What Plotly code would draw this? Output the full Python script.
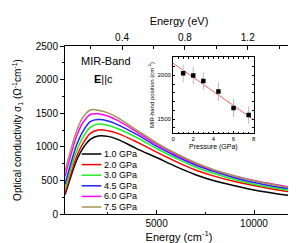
import plotly.graph_objects as go

# ---------------- data ----------------
energy_cm = [300, 450, 650, 900, 1200, 1600, 2000, 2500, 3000, 4000, 5000,
             6000, 7000, 8000, 9000, 10000, 11000, 12000]
sigma_1p0 = [285, 420, 600, 800, 970, 1110, 1160, 1155, 1110, 970, 840, 705, 585, 490, 420, 358, 310, 270]
sigma_2p0 = [310, 450, 640, 860, 1040, 1200, 1250, 1240, 1200, 1070, 920, 780, 655, 560, 485, 424, 370, 324]
sigma_3p0 = [370, 520, 720, 940, 1130, 1290, 1338, 1322, 1272, 1135, 975, 830, 700, 598, 512, 443, 390, 343]
sigma_4p5 = [440, 600, 800, 1030, 1220, 1375, 1405, 1385, 1330, 1180, 1010, 860, 730, 628, 540, 468, 413, 368]
sigma_6p0 = [560, 720, 930, 1160, 1350, 1480, 1492, 1458, 1392, 1220, 1040, 885, 752, 648, 566, 498, 443, 395]
sigma_7p5 = [640, 800, 1010, 1240, 1430, 1548, 1545, 1505, 1435, 1245, 1060, 900, 762, 652, 566, 495, 435, 383]
series_labels = ["1.0 GPa", "2.0 GPa", "3.0 GPa", "4.5 GPa", "6.0 GPa", "7.5 GPa"]
series_colors = ["#000000", "#ff0000", "#22ee22", "#2222ff", "#ff00ff", "#a3954f"]

pressure_gpa = [1.0, 2.0, 3.0, 4.5, 6.0, 7.5]
mir_position = [2023, 1997, 1935, 1815, 1625, 1545]
mir_error = [100, 100, 100, 105, 105, 100]
fit_pressure = [0, 8]
fit_position = [2140, 1492]

x_range_cm = [300, 12000]
cm_per_ev = 8065.54

series = [sigma_1p0, sigma_2p0, sigma_3p0, sigma_4p5, sigma_6p0, sigma_7p5]

FONT = "Liberation Sans, Arial, Helvetica, sans-serif"
W, H = 296, 243
ML, MR, MT, MB = 55, 9, 38, 37
PW, PH = W - ML - MR, H - MT - MB

def px(x):
    return (x - ML) / PW

def py(y):
    return (H - MB - y) / PH

fig = go.Figure()
for vals, col, lab in zip(series, series_colors, series_labels):
    fig.add_trace(go.Scatter(x=energy_cm, y=vals, mode="lines", name=lab,
                             line=dict(color=col, width=1.5, shape="spline", smoothing=1.0),
                             showlegend=False, xaxis="x", yaxis="y"))

# invisible trace to activate top / right axes
fig.add_trace(go.Scatter(x=[x_range_cm[0] / cm_per_ev], y=[0], mode="markers",
                         marker=dict(opacity=0), showlegend=False, hoverinfo="skip",
                         xaxis="x2", yaxis="y2"))

# inset
fig.add_trace(go.Scatter(x=fit_pressure, y=fit_position, mode="lines",
                         line=dict(color="#ff6060", width=1), showlegend=False,
                         xaxis="x3", yaxis="y3"))
fig.add_trace(go.Scatter(x=pressure_gpa, y=mir_position, mode="markers",
                         marker=dict(symbol="square", size=4.5, color="black"),
                         error_y=dict(type="data", array=mir_error, color="#bbbbbb",
                                      thickness=1, width=0),
                         showlegend=False, xaxis="x3", yaxis="y3"))

axis_common = dict(showline=True, linecolor="black", linewidth=1, showgrid=False,
                   zeroline=False, tickcolor="black", tickwidth=1,
                   tickfont=dict(family=FONT, size=10, color="black"))

fig.update_layout(
    width=W, height=H, margin=dict(l=ML, r=MR, t=MT, b=MB),
    paper_bgcolor="white", plot_bgcolor="white",
    font=dict(family=FONT, color="black"),
    xaxis=dict(axis_common, range=x_range_cm, dtick=5000, tick0=0, tickformat="d",
               ticks="inside", ticklen=4,
               minor=dict(dtick=2500, tick0=0, ticks="inside", ticklen=2, tickcolor="black"),
               title=dict(text="Energy (cm<sup>-1</sup>)", font=dict(size=11, family=FONT),
                          standoff=4)),
    xaxis2=dict(axis_common, overlaying="x", side="top", anchor="y",
                range=[x_range_cm[0] / cm_per_ev, x_range_cm[1] / cm_per_ev],
                dtick=0.4, tick0=0, tickformat=".1f", ticks="inside", ticklen=4,
                minor=dict(dtick=0.2, tick0=0, ticks="inside", ticklen=3, tickcolor="black"),
                title=dict(text="Energy (eV)", font=dict(size=11, family=FONT), standoff=4)),
    yaxis=dict(axis_common, range=[0, 2500], dtick=500, tick0=0, tickformat="d",
               ticks="outside", ticklen=4,
               minor=dict(dtick=250, tick0=0, ticks="outside", ticklen=2, tickcolor="black"),
               title=dict(text="Optical conductivity σ<sub>1</sub> (Ω<sup>-1</sup>cm<sup>-1</sup>)",
                          font=dict(size=10, family=FONT), standoff=12)),
    yaxis2=dict(axis_common, overlaying="y", side="right", anchor="x",
                range=[0, 2500], dtick=500, tick0=0, ticks="inside", ticklen=4,
                showticklabels=False,
                minor=dict(dtick=250, tick0=0, ticks="inside", ticklen=2, tickcolor="black")),
    xaxis3=dict(axis_common, domain=[px(165), px(247)], anchor="y3", range=[0, 8],
                dtick=2, tick0=0, ticks="inside", ticklen=2, mirror="ticks",
                tickfont=dict(family=FONT, size=6, color="black"),
                minor=dict(dtick=0.5, tick0=0, ticks="inside", ticklen=1.5, tickcolor="black"),
                title=dict(text="Pressure (GPa)", font=dict(size=7, family=FONT), standoff=2)),
    yaxis3=dict(axis_common, domain=[py(125), py(49)], anchor="x3", range=[1340, 2210],
                dtick=500, tick0=0, tickformat="d", ticks="inside", ticklen=2, mirror="ticks",
                tickfont=dict(family=FONT, size=6, color="black"),
                minor=dict(dtick=100, tick0=0, ticks="inside", ticklen=1.5, tickcolor="black"),
                title=dict(text="MIR-band position (cm<sup>-1</sup>)",
                           font=dict(size=6, family=FONT), standoff=2)),
)

# inset white background
fig.add_shape(type="rect", xref="x3 domain", yref="y3 domain", x0=0, x1=1, y0=0, y1=1,
              fillcolor="white", line=dict(width=0), layer="below")

# text annotations
fig.add_annotation(x=px(69), y=py(53), xref="paper", yref="paper", xanchor="left",
                   yanchor="middle", text="MIR-Band", showarrow=False,
                   font=dict(size=11, family=FONT, color="black"))
fig.add_annotation(x=px(82), y=py(71), xref="paper", yref="paper", xanchor="left",
                   yanchor="middle", text="<b>E</b>||c", showarrow=False,
                   font=dict(size=11, family=FONT, color="black"))

# manual legend
row_y = [146, 156.6, 167.2, 177.8, 188.4, 199]
for lab, col, ry in zip(series_labels, series_colors, row_y):
    fig.add_shape(type="line", xref="paper", yref="paper", x0=px(72), x1=px(92),
                  y0=py(ry), y1=py(ry), line=dict(color=col, width=1.5))
    fig.add_annotation(x=px(93), y=py(ry), xref="paper", yref="paper", xanchor="left",
                       yanchor="middle", text=lab, showarrow=False,
                       font=dict(size=9, family=FONT, color="black"))

fig.write_html("out.html")
